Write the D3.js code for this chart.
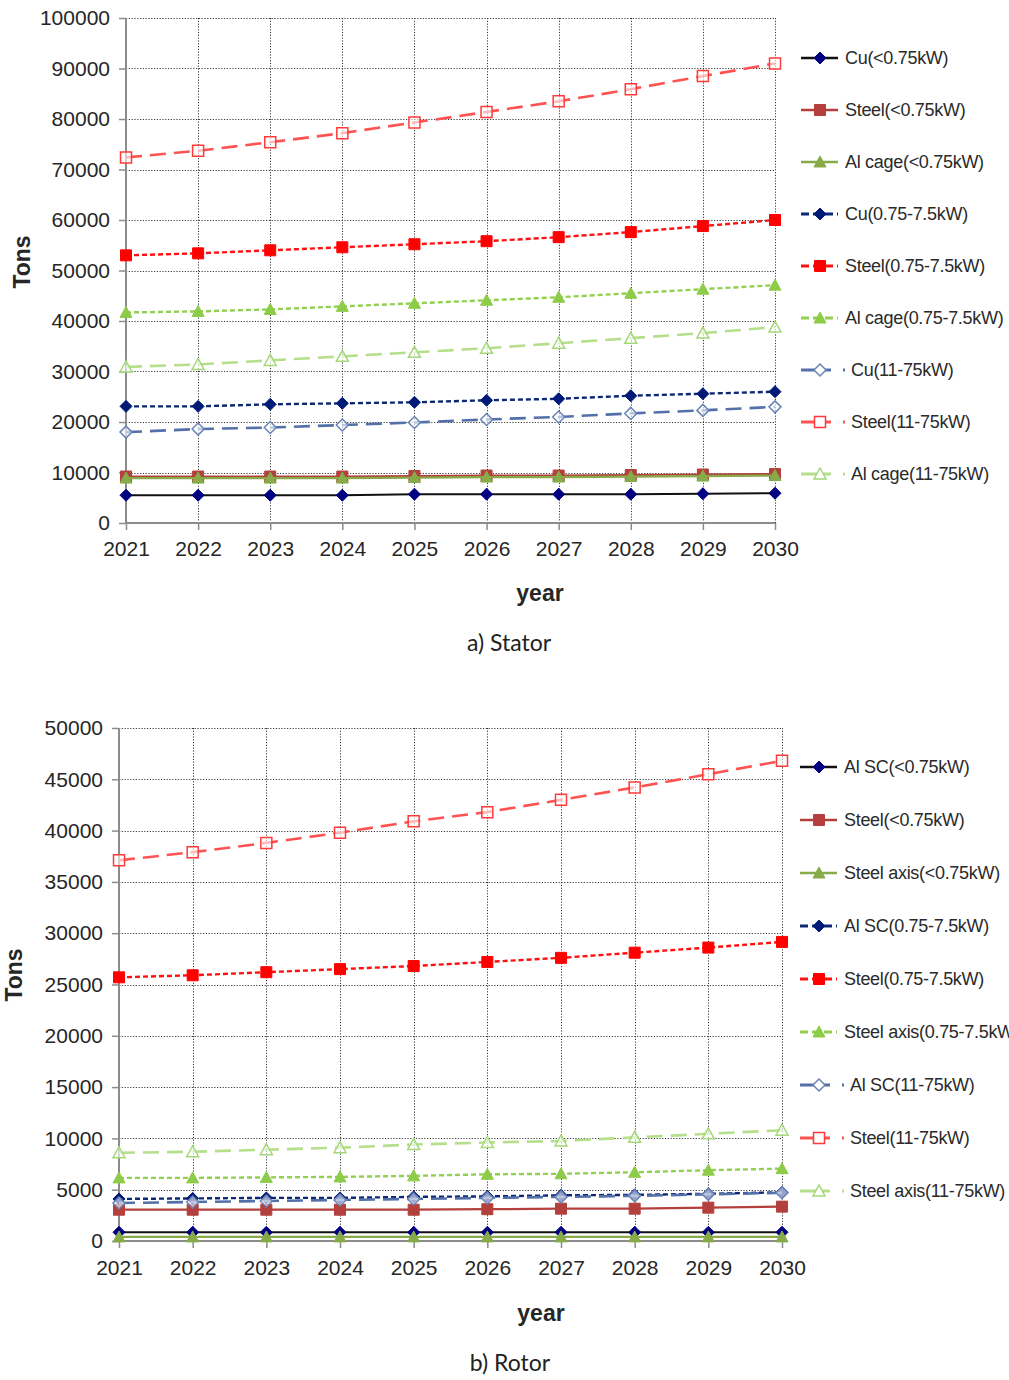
<!DOCTYPE html>
<html>
<head>
<meta charset="utf-8">
<script src="https://cdn.jsdelivr.net/npm/d3@7"></script>
<style>
  html, body { margin: 0; padding: 0; background: #fff; }
  svg { display: block; }
  text { font-family: "Liberation Sans", Arial, sans-serif; }
</style>
</head>
<body>
<svg id="chart" width="1009" height="1380"></svg>
<script>
// ---- data ----
const years = ["2021", "2022", "2023", "2024", "2025", "2026", "2027", "2028", "2029", "2030"];

// Stator material demand (tons)
const statorCuSmall     = [5500, 5500, 5500, 5500, 5700, 5700, 5700, 5700, 5800, 5900];
const statorSteelSmall  = [9200, 9200, 9200, 9200, 9300, 9400, 9400, 9500, 9600, 9700];
const statorAlSmall     = [8900, 8900, 8900, 8900, 9000, 9100, 9100, 9200, 9300, 9400];
const statorCuMid       = [23100, 23100, 23500, 23700, 23900, 24300, 24600, 25200, 25600, 26000];
const statorSteelMid    = [53000, 53400, 54000, 54600, 55200, 55800, 56600, 57600, 58800, 60000];
const statorAlMid       = [41700, 41900, 42300, 42900, 43500, 44100, 44700, 45500, 46300, 47100];
const statorCuLarge     = [18000, 18600, 18900, 19400, 19900, 20500, 21000, 21700, 22300, 23000];
const statorSteelLarge  = [72400, 73700, 75400, 77200, 79300, 81400, 83500, 85900, 88500, 91000];
const statorAlLarge     = [30900, 31400, 32200, 33000, 33800, 34600, 35600, 36600, 37600, 38800];

// Rotor material demand (tons)
const rotorAlSmall         = [850, 850, 850, 850, 850, 850, 850, 850, 850, 850];
const rotorSteelSmall      = [3050, 3050, 3050, 3050, 3050, 3100, 3150, 3150, 3250, 3350];
const rotorAxisSmall       = [400, 400, 400, 400, 400, 400, 400, 400, 400, 400];
const rotorAlMid           = [4100, 4150, 4200, 4200, 4300, 4350, 4450, 4500, 4600, 4750];
const rotorSteelMid        = [25700, 25900, 26200, 26500, 26800, 27200, 27600, 28100, 28600, 29150];
const rotorAxisMid         = [6150, 6150, 6200, 6250, 6350, 6500, 6550, 6700, 6900, 7050];
const rotorAlLarge         = [3700, 3800, 3900, 4000, 4100, 4200, 4300, 4400, 4550, 4700];
const rotorSteelLarge      = [37100, 37900, 38800, 39800, 40900, 41800, 43000, 44200, 45500, 46800];
const rotorAxisLarge       = [8600, 8700, 8900, 9100, 9400, 9600, 9750, 10100, 10450, 10800];

const statorNames = ["Cu(<0.75kW)", "Steel(<0.75kW)", "Al cage(<0.75kW)",
                     "Cu(0.75-7.5kW)", "Steel(0.75-7.5kW)", "Al cage(0.75-7.5kW)",
                     "Cu(11-75kW)", "Steel(11-75kW)", "Al cage(11-75kW)"];
const rotorNames = ["Al SC(<0.75kW)", "Steel(<0.75kW)", "Steel axis(<0.75kW)",
                    "Al SC(0.75-7.5kW)", "Steel(0.75-7.5kW)", "Steel axis(0.75-7.5kW)",
                    "Al SC(11-75kW)", "Steel(11-75kW)", "Steel axis(11-75kW)"];

const statorTicks = [0, 10000, 20000, 30000, 40000, 50000, 60000, 70000, 80000, 90000, 100000];
const rotorTicks = [0, 5000, 10000, 15000, 20000, 25000, 30000, 35000, 40000, 45000, 50000];

// ---- styles: one per series slot (size class x material) ----
const styles = [
  { line: "#111111", mark: "#000080", shape: "diamond", hollow: false, dash: null, w: 2 },
  { line: "#b3403c", mark: "#b3403c", shape: "square", hollow: false, dash: null, w: 2.2 },
  { line: "#86ab48", mark: "#86ab48", shape: "triangle", hollow: false, dash: null, w: 2.2 },
  { line: "#0e2878", mark: "#001a78", shape: "diamond", hollow: false, dash: "5,3", w: 2.4 },
  { line: "#ff1010", mark: "#ff0000", shape: "square", hollow: false, dash: "5,3", w: 2.4 },
  { line: "#92d050", mark: "#8ccc48", shape: "triangle", hollow: false, dash: "5,3", w: 2.4 },
  { line: "#5470a8", mark: "#6a84b8", shape: "diamond", hollow: true, dash: "16,8", w: 2.6 },
  { line: "#ff5252", mark: "#ff3a3a", shape: "square", hollow: true, dash: "16,8", w: 2.6 },
  { line: "#b6df8c", mark: "#a4d878", shape: "triangle", hollow: true, dash: "16,8", w: 2.6 }
];
const legendDash = [null, null, null, "8,4", "8,4", "8,4", "30,12,2,60", "30,12,2,60", "30,12,2,60"];

function markerPath(shape) {
  if (shape === "diamond") return "M0,-6L6,0L0,6L-6,0Z";
  if (shape === "square") return "M-5.5,-5.5H5.5V5.5H-5.5Z";
  return "M0,-6L6,5L-6,5Z";
}

const svg = d3.select("#chart");

function drawPanel(cfg) {
  const g = svg.append("g");
  const x = d3.scalePoint().domain(years).range([cfg.left, cfg.right]);
  const y = d3.scaleLinear().domain([0, cfg.max]).range([cfg.bottom, cfg.top]);

  // grid
  const grid = g.append("g").attr("fill", "none").attr("stroke", "#1a1a1a")
    .attr("stroke-width", 1).attr("stroke-dasharray", "1.2,1.6").attr("opacity", 0.85);
  grid.selectAll("line.h").data(cfg.ticks.slice(1)).join("line")
    .attr("x1", cfg.left).attr("x2", cfg.right)
    .attr("y1", d => Math.round(y(d)) + 0.5).attr("y2", d => Math.round(y(d)) + 0.5);
  grid.selectAll("line.v").data(years.slice(1)).join("line")
    .attr("x1", d => Math.round(x(d)) + 0.5).attr("x2", d => Math.round(x(d)) + 0.5)
    .attr("y1", cfg.top).attr("y2", cfg.bottom);

  // axes
  const yAxis = g.append("g").attr("transform", `translate(${cfg.left},0)`)
    .call(d3.axisLeft(y).tickValues(cfg.ticks).tickSize(7).tickPadding(9).tickFormat(d3.format("d")));
  const xAxis = g.append("g").attr("transform", `translate(0,${cfg.bottom})`)
    .call(d3.axisBottom(x).tickSize(7).tickPadding(cfg.xPad));
  [yAxis, xAxis].forEach(a => {
    a.select(".domain").attr("stroke", "#8c8c8c").attr("stroke-width", 2);
    a.selectAll(".tick line").attr("stroke", "#8c8c8c").attr("stroke-width", 1.5);
    a.selectAll(".tick text").attr("font-size", 21).attr("fill", "#262626")
      .attr("font-family", "'Liberation Sans', Arial, sans-serif");
  });
  yAxis.select(".domain").attr("d", `M0,${cfg.top}V${cfg.bottom}`);
  xAxis.select(".domain").attr("d", `M${cfg.left},0H${cfg.right}`);

  // series
  const line = d3.line().x((d, i) => x(years[i])).y(d => y(d));
  cfg.series.forEach((vals, k) => {
    const s = styles[k];
    const sg = g.append("g");
    sg.append("path").datum(vals).attr("d", line).attr("fill", "none")
      .attr("stroke", s.line).attr("stroke-width", s.w)
      .attr("stroke-dasharray", s.dash);
    sg.selectAll("path.m").data(vals).join("path").attr("class", "m")
      .attr("transform", (d, i) => `translate(${x(years[i])},${y(d)})`)
      .attr("d", markerPath(s.shape))
      .attr("fill", s.hollow ? "#fff" : s.mark)
      .attr("fill-opacity", s.hollow ? 0.6 : 1)
      .attr("stroke", s.mark).attr("stroke-width", s.hollow ? 1.5 : 1);
  });

  // legend
  const lg = g.append("g");
  cfg.names.forEach((name, k) => {
    const s = styles[k];
    const ly = cfg.legendTop + k * cfg.legendStep;
    const x0 = cfg.legendX;
    lg.append("line").attr("x1", x0).attr("x2", x0 + (k >= 6 ? 46 : 37))
      .attr("y1", ly).attr("y2", ly).attr("stroke", s.line).attr("stroke-width", s.w + 0.4)
      .attr("stroke-dasharray", legendDash[k]);
    lg.append("path").attr("transform", `translate(${x0 + 19},${ly})`)
      .attr("d", markerPath(s.shape))
      .attr("fill", s.hollow ? "#fff" : s.mark)
      .attr("stroke", s.mark).attr("stroke-width", s.hollow ? 1.5 : 1);
    lg.append("text").attr("x", x0 + (k >= 6 ? 50 : 44)).attr("y", ly).attr("dy", "0.35em")
      .attr("font-size", 18).attr("letter-spacing", -0.3).attr("fill", "#2a2a2a").text(name);
  });

  // titles
  g.append("text").attr("transform", `translate(${cfg.tonsX},${cfg.tonsY}) rotate(-90)`)
    .attr("text-anchor", "middle").attr("font-size", 23).attr("font-weight", "bold")
    .attr("fill", "#262626").text("Tons");
  g.append("text").attr("x", cfg.yearX).attr("y", cfg.yearY).attr("text-anchor", "middle")
    .attr("font-size", 23).attr("font-weight", "bold").attr("fill", "#262626").text("year");
  g.append("text").attr("x", cfg.capX).attr("y", cfg.capY).attr("text-anchor", "middle")
    .attr("font-size", 23).attr("fill", "#222").style("font-family", "Lato, 'Open Sans', sans-serif")
    .text(cfg.caption);
}

drawPanel({
  left: 126, right: 775, top: 18, bottom: 523, max: 100000, ticks: statorTicks, xPad: 11,
  series: [statorCuSmall, statorSteelSmall, statorAlSmall, statorCuMid, statorSteelMid, statorAlMid,
           statorCuLarge, statorSteelLarge, statorAlLarge],
  names: statorNames, legendX: 801, legendTop: 58, legendStep: 52,
  tonsX: 30, tonsY: 262, yearX: 540, yearY: 601, capX: 509, capY: 651, caption: "a) Stator"
});

drawPanel({
  left: 119, right: 782, top: 728, bottom: 1241, max: 50000, ticks: rotorTicks, xPad: 12,
  series: [rotorAlSmall, rotorSteelSmall, rotorAxisSmall, rotorAlMid, rotorSteelMid, rotorAxisMid,
           rotorAlLarge, rotorSteelLarge, rotorAxisLarge],
  names: rotorNames, legendX: 800, legendTop: 767, legendStep: 53,
  tonsX: 22, tonsY: 975, yearX: 541, yearY: 1321, capX: 510, capY: 1371, caption: "b) Rotor"
});
</script>
</body>
</html>
